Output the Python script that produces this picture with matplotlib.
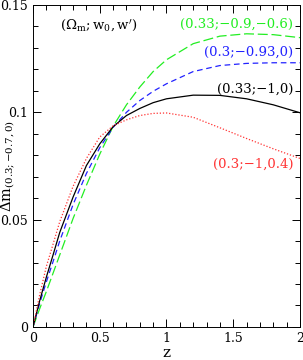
import matplotlib
matplotlib.use("Agg")
import matplotlib.pyplot as plt
from matplotlib.ticker import MultipleLocator

# redshift grid
z = [0, 0.05, 0.1, 0.15, 0.2, 0.3, 0.4, 0.5, 0.6, 0.7, 0.8, 0.9, 1.0, 1.2, 1.4, 1.6, 1.8, 2.0]

# delta m relative to (0.3;-0.7,0)
dm_green = [0, 0.0085, 0.0165, 0.025, 0.0335, 0.0505, 0.0660, 0.0805, 0.0935, 0.1035,
            0.1118, 0.1190, 0.1245, 0.1320, 0.1355, 0.1366, 0.1362, 0.1348]
dm_blue = [0, 0.0110, 0.0210, 0.0304, 0.0400, 0.0570, 0.0715, 0.0835, 0.0930, 0.1000,
           0.1055, 0.1098, 0.1133, 0.1190, 0.1218, 0.1228, 0.1231, 0.1231]
dm_black = [0, 0.0122, 0.0232, 0.0335, 0.0440, 0.0605, 0.0752, 0.0853, 0.0933, 0.0985,
            0.1018, 0.1045, 0.1063, 0.1080, 0.1079, 0.1063, 0.1035, 0.0998]
dm_red = [0, 0.0150, 0.0282, 0.0385, 0.0490, 0.0655, 0.0785, 0.0885, 0.0937, 0.0965,
          0.0985, 0.0995, 0.0997, 0.0977, 0.0928, 0.0878, 0.0830, 0.0785]

labels = ["(0.33;\u22120.9,\u22120.6)", "(0.3;\u22120.93,0)", "(0.33;\u22121,0)", "(0.3;\u22121,0.4)"]

xticks = [0, 0.5, 1, 1.5, 2]
xtick_labels = ["0", "0.5", "1", "1.5", "2"]
yticks = [0, 0.05, 0.1, 0.15]
ytick_labels = ["0", "0.05", "0.1", "0.15"]

plt.rcParams['font.family'] = 'DejaVu Serif'
plt.rcParams['mathtext.fontset'] = 'dejavuserif'

fig = plt.figure(figsize=(3.03, 3.6), dpi=100)
ax = fig.add_axes([0.109, 0.092, 0.881, 0.894])

ax.plot(z, dm_green, color='#22ee22', lw=0.9, dashes=(8, 3))
ax.plot(z, dm_blue, color='#2222ff', lw=0.9, dashes=(4.5, 3))
ax.plot(z, dm_black, color='black', lw=0.9)
ax.plot(z, dm_red, color='#ff3333', lw=0.9, dashes=(1, 1.5))

ax.set_xlim(0, 2)
ax.set_ylim(0, 0.15)
ax.set_xticks(xticks)
ax.set_xticklabels(xtick_labels)
ax.set_yticks(yticks)
ax.set_yticklabels(ytick_labels)
ax.xaxis.set_minor_locator(MultipleLocator(0.1))
ax.yaxis.set_minor_locator(MultipleLocator(0.01))
ax.tick_params(which='both', direction='in', top=True, right=True, labelsize=9, width=0.7)
ax.tick_params(which='major', length=6)
ax.tick_params(which='minor', length=3.5)
for s in ax.spines.values():
    s.set_linewidth(0.7)

ax.set_xlabel('z', fontsize=11, labelpad=1)
fig.text(8 / 303, 1 - 166 / 360, r'$\Delta\mathrm{m}_{(0.3;{-}0.7,0)}$', fontsize=10.5,
         rotation=90, ha='center', va='center')

ax.text(0.2, 0.1405, r"$(\Omega_\mathrm{m};\mathrm{w}_0,\mathrm{w}')$", fontsize=9.5, ha='left', va='center')
ax.text(1.95, 0.1411, labels[0], color='#22ee22', fontsize=9.5, ha='right', va='center')
ax.text(1.95, 0.1278, labels[1], color='#2222ff', fontsize=9.5, ha='right', va='center')
ax.text(1.95, 0.1106, labels[2], color='black', fontsize=9.5, ha='right', va='center')
ax.text(1.95, 0.0756, labels[3], color='#ff3333', fontsize=9.5, ha='right', va='center')

fig.savefig('out.png', dpi=100)
